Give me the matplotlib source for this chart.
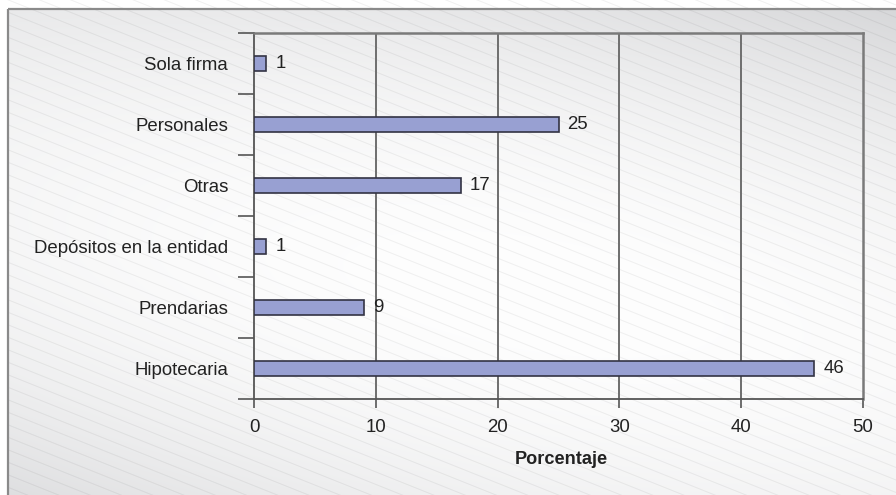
import numpy as np
import matplotlib
matplotlib.use("Agg")
import matplotlib.pyplot as plt
from matplotlib.patches import Rectangle

plt.rcParams["font.family"] = ["Liberation Sans", "DejaVu Sans"]

# Data
categories = ["Sola firma", "Personales", "Otras", "Depósitos en la entidad",
              "Prendarias", "Hipotecaria"]
values = [1, 25, 17, 1, 9, 46]
xticks = [0, 10, 20, 30, 40, 50]
xlabel = "Porcentaje"

W, H = 896, 495
DPI = 100
fig = plt.figure(figsize=(W / DPI, H / DPI), dpi=DPI)
fig.patch.set_facecolor("white")

# Backdrop: soft gray gradient with diagonal pinstripes inside a framed panel
bg = fig.add_axes([0, 0, 1, 1], zorder=0)
bg.set_xlim(0, W)
bg.set_ylim(H, 0)
bg.axis("off")

yy, xx = np.mgrid[0:H, 0:W].astype(float)
dx = xx - 530.0
dy = yy - 290.0
drop = 3.4e-5 * dx ** 2 + 3.0e-4 * dy ** 2 - 9.0e-5 * dx * dy
lum = np.clip(254.0 - drop, 210, 254) / 255.0
shade = np.clip((254.0 - lum * 255.0) / 40.0, 0, 1)
img = np.dstack([lum, lum + 0.002 * shade, lum + 0.01 * shade])
img = np.clip(img, 0, 1)
bg.imshow(img, extent=(8, W, H, 9), aspect="auto", zorder=0,
          interpolation="bilinear")

slope = 0.4
spacing = 12.5
for c in np.arange(-slope * W - 20, H + 20, spacing):
    xs = np.array([8, W])
    ys = c + slope * xs
    bg.plot(xs, ys, color="black", alpha=0.055, lw=0.75, zorder=1)

bg.add_patch(Rectangle((8, 9), W + 20, H + 20, fill=False,
                       edgecolor="#8a8a8a", lw=1.6, zorder=2))

# Main chart area
L, R, T, B = 254, 863, 33, 399
ax = fig.add_axes([L / W, (H - B) / H, (R - L) / W, (B - T) / H], zorder=1)
ax.patch.set_alpha(0)

ypos = np.arange(len(categories))
ax.barh(ypos, values, height=0.26, color="#98a0d2", edgecolor="#333344",
        linewidth=1.2, zorder=3)

for y, v in zip(ypos, values):
    ax.annotate(str(v), xy=(v, y), xytext=(6.5, 0), textcoords="offset points",
                va="center", ha="left", fontsize=13.4, color="#222222")

ax.set_xlim(0, 50)
ax.set_ylim(len(categories) - 0.5, -0.5)

ax.set_xticks(xticks)
ax.set_xticklabels([str(t) for t in xticks])
ax.set_yticks(ypos)
ax.set_yticklabels(categories)
ax.set_yticks(np.arange(-0.5, len(categories)), minor=True)

ax.tick_params(axis="x", direction="out", length=6.5, width=1.2,
               color="#555555", labelsize=13.4, labelcolor="#222222", pad=8)
ax.tick_params(axis="y", which="major", length=0, pad=18.7,
               labelsize=13.4, labelcolor="#222222")
ax.tick_params(axis="y", which="minor", direction="out", length=11.5,
               width=1.2, color="#555555")

for x in xticks[1:-1]:
    ax.axvline(x, color="#6e6e6e", lw=1.4, zorder=2)

for side in ("left", "bottom"):
    ax.spines[side].set_color("#555555")
    ax.spines[side].set_linewidth(1.3)
for side in ("top", "right"):
    ax.spines[side].set_color("#7a7a7a")
    ax.spines[side].set_linewidth(1.8)

ax.set_xlabel(xlabel, fontsize=13.1, fontweight="bold", color="#222222")
ax.xaxis.set_label_coords(0.505, -(460 - B) / (B - T))
ax.xaxis.label.set_va("center")

fig.savefig("out.png", dpi=DPI)
